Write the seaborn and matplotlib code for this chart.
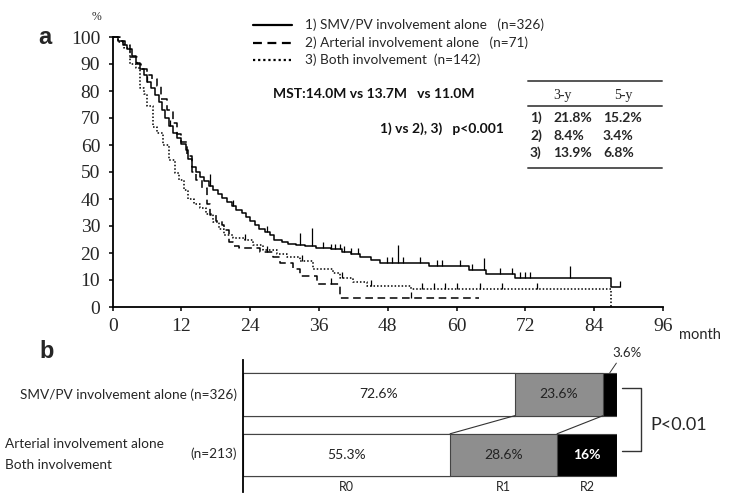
import numpy as np
import matplotlib
matplotlib.use("Agg")
import matplotlib.pyplot as plt
import seaborn as sns
from matplotlib.lines import Line2D

# --- panel a: Kaplan-Meier step points (month, survival %) ---
smv_months = [0, 1, 1.8, 2.5, 3.3, 4, 4.8, 5.5, 6, 6.7, 7.3, 8, 8.6, 9.2, 9.8,
              10.5, 11.2, 12, 12.7, 13.2, 13.8, 14.5, 15.2, 16, 16.8, 17.5,
              18.3, 19, 20, 20.8, 21.5, 22.5, 23.2, 24, 24.8, 25.6, 26.5,
              27.5, 28.2, 29.5, 30.5, 32, 33.5, 35.5, 38, 40, 41.5, 43.2, 45,
              46.6, 55.1, 62.1, 65.2, 70.1, 86.9, 88.5]
smv_surv = [100, 98.5, 97, 95.5, 93, 90.5, 88, 86, 83.5, 81, 78.5, 76, 73, 70,
            67, 64.5, 62.5, 60.5, 58, 55, 52, 50, 48, 46.5, 45, 43.5, 42, 40.5,
            39, 37.5, 36, 35, 33.5, 32, 30.5, 29, 27.8, 26.5, 25, 24, 23.5, 23,
            22.5, 21.8, 21.3, 20.3, 19.5, 18.5, 17.5, 16.3, 15.2, 13.6, 12.2,
            10.9, 7.4, 7.4]
smv_censor = [6, 10, 17, 17, 21, 27, 32.7, 32.7, 34.8, 34.8, 34.8, 36.7, 38,
              38.8, 39.6, 40.4, 41.5, 42.8, 47.8, 48.7, 49.8, 49.8, 49.8, 50.7,
              53.6, 56.5, 57.4, 60.6, 62.6, 64.7, 64.7, 67.6, 69.6, 71.1, 71.9,
              72.8, 79.8, 79.8, 88.5]

art_months = [0, 1.2, 2.2, 3, 4.2, 5, 6, 6.8, 7.8, 8.5, 9.5, 10.5, 11.3, 12,
              13, 13.8, 14.5, 15.5, 16.5, 17, 18, 19, 19.5, 20.3, 21, 22,
              25.7, 28, 29.2, 31.5, 32.7, 35.6, 39.7, 63.9]
art_surv = [100, 98.5, 97, 92.5, 90, 88, 86, 84.5, 82, 77, 73, 68, 64, 61, 56,
            50, 47, 44, 38, 34, 32, 30.5, 28.5, 24, 22.5, 21.7, 20.5, 18.7,
            16.4, 13.9, 11.5, 8.4, 3.4, 3.4]
art_censor = [27, 38, 52]

both_months = [0, 1, 2, 3, 4, 4.8, 5.5, 6, 7, 7.8, 8.8, 9.8, 10.8, 11.5, 12.5,
               13.2, 14.2, 15.2, 16.3, 17.5, 18.5, 19.5, 21, 23, 24.5, 26.2,
               28.6, 30.4, 32.7, 35, 38.5, 39.6, 42, 44.3, 52, 86.9]
both_surv = [100, 98, 96, 90, 88.5, 81, 79, 74.5, 66.8, 64.5, 60, 54.5, 49.5,
             47, 43.5, 40, 38, 36.5, 34.5, 31.5, 29, 26.5, 25.4, 24.7, 23, 21,
             19.8, 18.6, 16.9, 13.9, 12.6, 10.8, 9.2, 7.8, 6.8, 0]
both_censor = [23, 33, 40, 45, 54, 56, 58, 60, 64, 68, 74]

legend_labels = ["1) SMV/PV involvement alone   (n=326)",
                 "2) Arterial involvement alone   (n=71)",
                 "3) Both involvement  (n=142)"]
table_rows = ["1)", "2)", "3)"]
table_3y = ["21.8%", "8.4%", "13.9%"]
table_5y = ["15.2%", "3.4%", "6.8%"]

# --- panel b: resection status (%) ---
groups = ["SMV/PV alone", "Arterial / Both"]
r0 = [72.6, 55.3]
r1 = [23.6, 28.6]
r2 = [3.6, 16.0]

W, H = 733, 493
sns.set_theme(style="ticks")
plt.rcParams["font.family"] = ["Lato", "DejaVu Sans"]


def fx(px):
    return px / W


def fy(py):
    return 1 - py / H


def surv_at(months, surv, t):
    i = np.searchsorted(months, t, side="right") - 1
    return surv[i]


fig = plt.figure(figsize=(W / 100, H / 100), dpi=100)

# ---------------- panel a ----------------
ax = fig.add_axes([fx(112.7), fy(307), fx(663) - fx(112.7), fy(37) - fy(307)])
curves = [
    (smv_months, smv_surv, smv_censor, "-"),
    (art_months, art_surv, art_censor, (0, (5, 3))),
    (both_months, both_surv, both_censor, (0, (1, 1.3))),
]
for months, surv, censor, ls in curves:
    sns.lineplot(x=months, y=surv, ax=ax, drawstyle="steps-post",
                 color="black", linestyle=ls, lw=1.1, estimator=None,
                 sort=False, errorbar=None, clip_on=False)
    cens, counts = np.unique(censor, return_counts=True)
    base = np.array([surv_at(months, surv, c) for c in cens])
    ax.vlines(cens, base, base + 2.2 * counts, color="black", lw=0.9,
              linestyles="solid")

ax.set_xlim(0, 96)
ax.set_ylim(0, 100)
ax.set_xticks(range(0, 97, 12))
ax.set_yticks(range(0, 101, 10))
ax.set_xlabel("")
ax.set_ylabel("")
for s in ["top", "right"]:
    ax.spines[s].set_visible(False)
for s in ["left", "bottom"]:
    ax.spines[s].set_linewidth(1.3)
    ax.spines[s].set_color("black")
ax.tick_params(axis="both", direction="out", length=3, width=1.1,
               color="black", labelsize=14)
ax.tick_params(axis="y", pad=6)
ax.tick_params(axis="x", pad=5)
for lab in ax.get_xticklabels() + ax.get_yticklabels():
    lab.set_fontfamily("Liberation Serif")

fig.text(fx(45), fy(38), "a", fontsize=17, fontweight="bold",
         family="Liberation Sans", ha="center", va="center")
fig.text(fx(97), fy(17), "%", fontsize=8.5, family="Liberation Serif",
         ha="center", va="center")
fig.text(fx(700), fy(335), "month", fontsize=10.5, ha="center", va="center")

# legend drawn by hand
leg_styles = ["-", (0, (4, 2.5)), (0, (1, 1.3))]
for i, (lab, ls) in enumerate(zip(legend_labels, leg_styles)):
    yy = fy(25 + 17.5 * i)
    fig.add_artist(Line2D([fx(253), fx(292)], [yy, yy], color="black",
                          lw=1.6, linestyle=ls))
    fig.text(fx(305), yy, lab, fontsize=9.8, ha="left", va="center")

fig.text(fx(273), fy(94), "MST:14.0M vs 13.7M   vs 11.0M", fontsize=10,
         fontweight="bold", ha="left", va="center", color="#111111")
fig.text(fx(380), fy(129), "1) vs 2), 3)   p<0.001", fontsize=10,
         fontweight="bold", ha="left", va="center", color="#111111")

# survival table
for py, lw in [(81, 1.4), (106, 1.4), (168, 1.4)]:
    fig.add_artist(Line2D([fx(528), fx(662)], [fy(py), fy(py)],
                          color="#555555", lw=lw))
fig.text(fx(563), fy(95.5), "3-y", fontsize=10, family="Liberation Serif",
         ha="center", va="center")
fig.text(fx(623), fy(95.5), "5-y", fontsize=10, family="Liberation Serif",
         ha="center", va="center")
for i, (r, a3, a5) in enumerate(zip(table_rows, table_3y, table_5y)):
    yy = fy(118 + 17.5 * i)
    fig.text(fx(530), yy, r, fontsize=10, fontweight="bold", ha="left",
             va="center")
    fig.text(fx(553), yy, a3, fontsize=10, fontweight="bold", ha="left",
             va="center")
    fig.text(fx(603), yy, a5, fontsize=10, fontweight="bold", ha="left",
             va="center")

# ---------------- panel b ----------------
axb = fig.add_axes([fx(243.3), fy(492), fx(617.3) - fx(243.3),
                    fy(360) - fy(492)])
r01 = [a + b for a, b in zip(r0, r1)]
total = [a + b for a, b in zip(r01, r2)]
bar_kw = dict(orient="h", width=0.7, saturation=1, edgecolor="#444444",
              linewidth=0.8, ax=axb)
sns.barplot(x=total, y=groups, color="black", **bar_kw)
sns.barplot(x=r01, y=groups, color="#8e8e8e", **bar_kw)
sns.barplot(x=r0, y=groups, color="white", **bar_kw)

axb.set_xlim(0, 100)
axb.set_ylim(1.614, -0.571)
axb.set_xlabel("")
axb.set_ylabel("")
axb.set_xticks([])
axb.set_yticks([])
for s in ["top", "right", "bottom"]:
    axb.spines[s].set_visible(False)
axb.spines["left"].set_linewidth(1.3)
axb.spines["left"].set_color("black")

# connecting lines between segment borders
for top_x, bot_x in [(r0[0], r0[1]), (r01[0], r01[1])]:
    axb.plot([top_x, bot_x], [0.35, 0.65], color="#333333", lw=0.8)

# segment labels
for i in range(2):
    axb.text(r0[i] / 2, i, f"{r0[i]}%", ha="center", va="center",
             fontsize=10, color="#222222")
    axb.text(r0[i] + r1[i] / 2, i, f"{r1[i]}%", ha="center", va="center",
             fontsize=10, color="#222222")
axb.text(r01[1] + r2[1] / 2, 1, f"{r2[1]:.0f}%", ha="center", va="center",
         fontsize=10, color="white", fontweight="bold")
axb.annotate(f"{r2[0]}%", xy=(r01[0] + r2[0] / 2, -0.36),
             xytext=(626.7, H - 352.7), textcoords="figure pixels",
             ha="center", va="center", fontsize=9.5, annotation_clip=False,
             arrowprops=dict(arrowstyle="-", lw=0.7, color="#333333",
                             shrinkA=1, shrinkB=0, relpos=(0.25, 0)))

# R0 / R1 / R2 labels under the lower bar
seg_starts = [0, r0[1], r01[1]]
seg_sizes = [r0[1], r1[1], r2[1]]
for name, st, sz in zip(["R0", "R1", "R2"], seg_starts, seg_sizes):
    axb.text(st + sz / 2, 1.526, name, ha="center", va="center", fontsize=9)

# row labels
fig.text(fx(237), fy(394.5), "SMV/PV involvement alone (n=326)", fontsize=9.8,
         ha="right", va="center")
fig.text(fx(5), fy(444), "Arterial involvement alone", fontsize=9.8,
         ha="left", va="center")
fig.text(fx(5), fy(465), "Both involvement", fontsize=9.8, ha="left",
         va="center")
fig.text(fx(237), fy(454), "(n=213)", fontsize=9.8, ha="right", va="center")

# significance bracket
bx = [fx(621.7), fx(640.7), fx(640.7), fx(621.7)]
by = [fy(388.3), fy(388.3), fy(450.7), fy(450.7)]
fig.add_artist(Line2D(bx, by, color="#333333", lw=1.0))
fig.text(fx(650), fy(425), "P<0.01", fontsize=13, ha="left", va="center")

fig.text(fx(47), fy(352), "b", fontsize=17, fontweight="bold",
         family="Liberation Sans", ha="center", va="center")

fig.savefig("out.png", dpi=100)
